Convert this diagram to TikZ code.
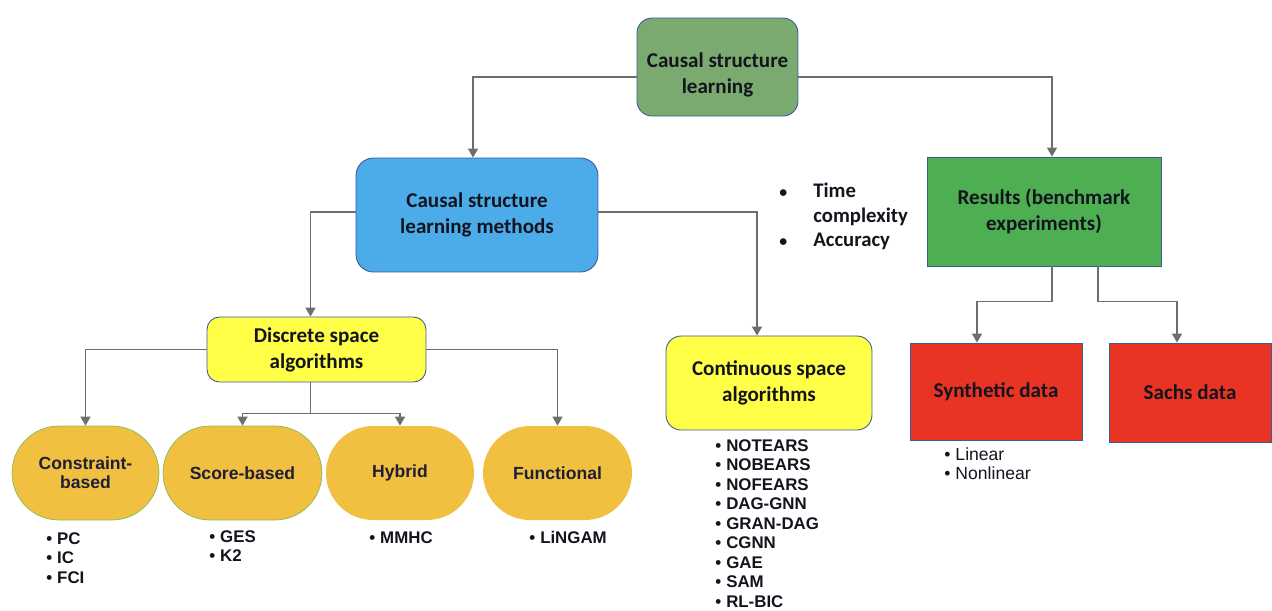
\documentclass[tikz,border=0pt]{standalone}
\usepackage{fontspec}
\setmainfont{Carlito}
\newfontfamily\arialfont{Liberation Sans}
\usetikzlibrary{calc, arrows.meta}
\definecolor{rootgreen}{RGB}{123,170,112}
\definecolor{methblue}{RGB}{76,172,234}
\definecolor{resgreen}{RGB}{77,175,82}
\definecolor{algyellow}{RGB}{255,255,72}
\definecolor{ovalorange}{RGB}{242,192,64}
\definecolor{ovalline}{RGB}{130,190,90}
\definecolor{datared}{RGB}{233,52,36}
\definecolor{boxline}{RGB}{60,90,150}
\definecolor{arrowgray}{RGB}{110,110,110}
\definecolor{textdark}{RGB}{20,20,30}
\definecolor{navytext}{RGB}{30,30,55}
\newcommand{\itm}{\textbullet\hspace{.1cm}}

\begin{document}
\begin{tikzpicture}[x=.02cm, y=-.02cm]
\tikzstyle{box} = [rectangle, rounded corners=.3cm, align=center, draw=boxline, line width=.5pt, inner sep=0, text=textdark, font=\bfseries\fontsize{12}{14.8}\selectfont]
\tikzstyle{sqbox} = [box, sharp corners]
\tikzstyle{oval} = [rectangle, rounded corners=.94cm, minimum height=1.88cm, align=center, fill=ovalorange, inner sep=0, text=navytext, font=\arialfont\bfseries\fontsize{10}{11}\selectfont]
\tikzstyle{lst} = [anchor=north west, inner sep=0, align=left, text=textdark, font=\arialfont\bfseries\fontsize{9.6}{11.1}\selectfont]
\tikzstyle{arr} = [-{Triangle[width=.2cm,length=.18cm]}, line width=.8pt, draw=arrowgray]

\useasboundingbox (0,0) rectangle (1272,610);

% top level
\node (root) [box, fill=rootgreen, minimum width=3.22cm, minimum height=1.96cm] at (717.5,67) {\raisebox{-.16cm}[\height][\depth]{\begin{tabular}{@{}c@{}}Causal structure\\learning\end{tabular}}};
\node (meth) [box, fill=methblue, minimum width=4.84cm, minimum height=2.28cm, rounded corners=.35cm] at (477,215) {Causal structure\\learning methods};
\node (res) [sqbox, fill=resgreen, minimum width=4.68cm, minimum height=2.18cm] at (1044,211.5) {Results (benchmark\\experiments)};
\node (crit) [anchor=north west, inner sep=0, align=left, text=textdark, font=\bfseries\fontsize{11.8}{13.9}\selectfont] at (779,183) {\makebox[.68cm][l]{\small\textbullet}Time\\\hspace{.68cm}complexity\\\makebox[.68cm][l]{\small\textbullet}Accuracy};

% second level
\node (disc) [box, fill=algyellow, minimum width=4.38cm, minimum height=1.3cm, rounded corners=.25cm] at (316.5,349.5) {Discrete space\\algorithms};
\node (cont) [box, fill=algyellow, minimum width=4.12cm, minimum height=1.88cm] at (769,383) {Continuous space\\algorithms};
\node (syn) [sqbox, fill=datared, minimum width=3.44cm, minimum height=1.94cm] at (996,391.5) {Synthetic data};
\node (sachs) [sqbox, fill=datared, minimum width=3.24cm, minimum height=1.98cm] at (1190,392.5) {Sachs data};

% discrete families
\node (cons) [oval, draw=ovalline, minimum width=2.94cm] at (85.5,473) {Constraint-\\based};
\node (score) [oval, draw=ovalline, minimum width=3.18cm] at (242.5,473) {Score-based};
\node (hyb) [oval, minimum width=2.96cm] at (400,473) {Hybrid};
\node (func) [oval, minimum width=2.98cm] at (557.5,473) {Functional};

% algorithm lists
\node (conslist) [lst] at (46,532) {\itm PC\\\itm IC\\\itm FCI};
\node (scorelist) [lst] at (209,530) {\itm GES\\\itm K2};
\node (hyblist) [lst] at (369,531) {\itm MMHC};
\node (funclist) [lst] at (529,531) {\itm LiNGAM};
\node (contlist) [lst] at (715,439) {\itm NOTEARS\\\itm NOBEARS\\\itm NOFEARS\\\itm DAG-GNN\\\itm GRAN-DAG\\\itm CGNN\\\itm GAE\\\itm SAM\\\itm RL-BIC};
\node (synlist) [lst, font=\arialfont\fontsize{10}{10.8}\selectfont] at (944,447) {\itm Linear\\\itm Nonlinear};

% connectors
\draw[arr] ($(root.west)+(0,10)$) -| ($(meth.north)+(-4,0)$);
\draw[arr] ($(root.east)+(0,10)$) -| ($(res.north)+(8,0)$);
\draw[arr] ($(meth.west)+(0,-3)$) -| ($(disc.north)+(-6,0)$);
\draw[arr] ($(meth.east)+(0,-3)$) -| ($(cont.north)+(-12,0)$);

\draw[arr] (disc.west) -| (cons.north);
\draw[arr] (disc.east) -| (func.north);
\draw[line width=.8pt, arrowgray] ($(disc.south)+(-6,0)$) -- ++(0,31) coordinate (split);
\draw[arr] (split) -| (score.north);
\draw[arr] (split) -| (hyb.north);

\draw[arr] ($(res.south)+(8,0)$) -- ++(0,35) -| ($(syn.north)+(-19,0)$);
\draw[arr] ($(res.south)+(54,0)$) -- ++(0,35) -| ($(sachs.north)+(-13,0)$);

\end{tikzpicture}
\end{document}
